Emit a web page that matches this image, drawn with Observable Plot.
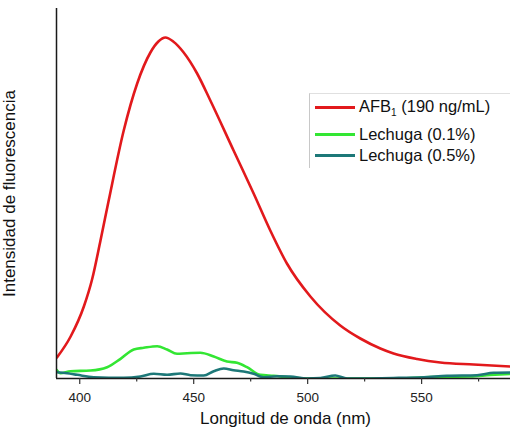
<!DOCTYPE html>
<html>
<head>
<meta charset="utf-8">
<script src="https://cdn.jsdelivr.net/npm/d3@7"></script>
<script src="https://cdn.jsdelivr.net/npm/@observablehq/plot@0.6"></script>
<style>
  html, body { margin: 0; padding: 0; background: #fff; }
  #wrap { position: relative; width: 510px; height: 437px; font-family: "Liberation Sans", Arial, sans-serif; }
  #legend { position: absolute; left: 309px; top: 93px; width: 201px; height: 75px;
            border-left: 1px solid #c8c8c8; border-top: 1px solid #e0e0e0; box-sizing: border-box;
            padding-top: 3px; }
  .row { display: flex; align-items: center; height: 21px; font-size: 16.5px; color: #111; }
  .row .sw { width: 40px; height: 3px; margin-left: 5px; margin-right: 4px; }
  .row sub { font-size: 10px; vertical-align: -4px; }
</style>
</head>
<body>
<div id="wrap"><div id="chart"></div><div id="legend"></div></div>
<script>
// Wavelength (nm) / intensity (a.u.)
const redWl  = [390, 396, 401.8, 405.4, 409.1, 412.7, 419.3, 425.2, 431, 434.5, 437.6, 441, 445.6, 451.5, 457.3, 467.5, 476.3, 483.6, 490.9, 501.2, 514.3, 523.1, 531.9, 537.7, 548, 558.2, 572.8, 589];
const redVal = [21, 42, 72, 99, 138, 178, 248, 295, 326, 337, 341, 337, 326, 305, 278, 228, 185, 148, 115, 82, 53, 40, 30, 25, 19.5, 16, 14, 12];

const greenWl  = [389.8, 391.5, 395.9, 404.7, 412, 417.9, 423.7, 428.1, 434, 438.3, 442.7, 447.1, 452.9, 458.8, 464.6, 469, 473.4, 479.2, 485.1, 492.4, 501.2, 520, 540, 553.8, 571.4, 580, 589];
const greenVal = [8.7, 5.3, 7.3, 8, 11.3, 19.7, 29, 30.7, 32.3, 29, 24.7, 25.3, 25.7, 22, 17, 15.7, 11.3, 3.7, 2.7, 1, 0, 0, 0, 1.5, 2, 3.5, 4.7];

const tealWl  = [389.8, 394.5, 398.9, 406.1, 419.3, 426.6, 432.5, 438.3, 444.2, 448.6, 454.4, 458.8, 463.2, 467.5, 471.9, 476.3, 480.7, 486.6, 492.4, 499.7, 505.6, 512.1, 517.3, 537.6, 550.9, 561.1, 574.3, 581.6, 589];
const tealVal = [6.3, 5.3, 3.7, 1.3, 0.7, 2, 4.7, 3.7, 5, 3.3, 3, 7.3, 10, 8.3, 7, 4.7, 1.3, 2.3, 2, 0, 0.5, 3, 0, 0.5, 1.3, 2.7, 3.3, 5.7, 6];

const seriesNames  = ["AFB<sub>1</sub> (190 ng/mL)", "Lechuga (0.1%)", "Lechuga (0.5%)"];
const seriesColors = ["#e2191c", "#33e633", "#1d7878"];

const majorTicks = [400, 450, 500, 550];
const minorTicks = [425, 475, 525, 575];
const xDomain = [389.8, 589];
const yDomain = [0, 370];
const xTitle = "Longitud de onda (nm)";
const yTitle = "Intensidad de fluorescencia";

const toRows = (wl, val, s) => wl.map((w, i) => ({ wl: w, v: val[i], s }));
const seriesData = [
  toRows(redWl, redVal, 0),
  toRows(greenWl, greenVal, 1),
  toRows(tealWl, tealVal, 2)
];

const chart = Plot.plot({
  width: 510,
  height: 437,
  marginLeft: 56,
  marginRight: 0,
  marginTop: 8,
  marginBottom: 59,
  style: { fontFamily: "'Liberation Sans', Arial, sans-serif", background: "#fff" },
  x: { domain: xDomain, label: null },
  y: { domain: yDomain, axis: null },
  marks: [
    ...seriesData.map((d, i) => Plot.line(d, { x: "wl", y: "v", stroke: seriesColors[i], strokeWidth: 2.6, curve: "monotone-x", clip: true })),
    Plot.ruleY([0], { stroke: "#1a1a1a", strokeWidth: 1.5 }),
    Plot.ruleX([xDomain[0]], { stroke: "#1a1a1a", strokeWidth: 1.5 }),
    Plot.axisX({ ticks: majorTicks, tickSize: 6, tickPadding: 8, fontSize: 13.5, stroke: "#333", strokeWidth: 1.2, tickFormat: d => String(d), color: "#222" }),
    Plot.axisX({ ticks: minorTicks, tickSize: 3.5, text: null, stroke: "#333", strokeWidth: 1.2 }),
    Plot.text([xTitle], { frameAnchor: "bottom", dy: 45, dx: 2, fontSize: 17, fill: "#111" }),
    Plot.text([yTitle], { frameAnchor: "left", textAnchor: "middle", rotate: -90, dx: -47, fontSize: 17, fill: "#111" })
  ]
});
document.getElementById("chart").appendChild(chart);

const legend = document.getElementById("legend");
seriesNames.forEach((name, i) => {
  const row = document.createElement("div");
  row.className = "row";
  if (i === 0) row.style.marginBottom = "6px";
  row.innerHTML = `<span class="sw" style="background:${seriesColors[i]}"></span><span>${name}</span>`;
  legend.appendChild(row);
});
</script>
</body>
</html>
